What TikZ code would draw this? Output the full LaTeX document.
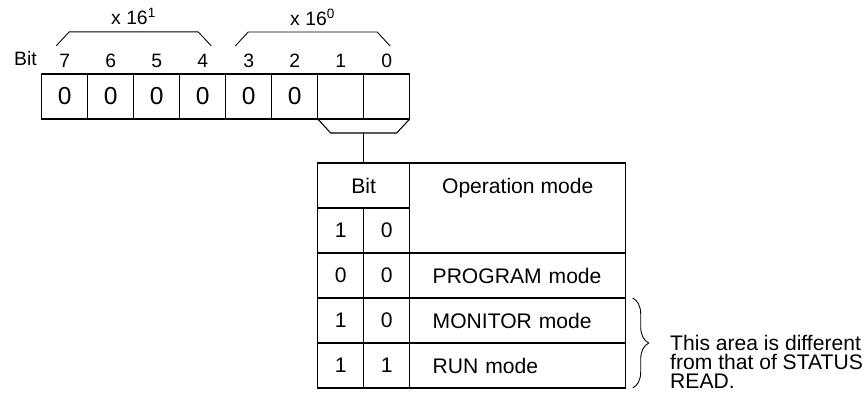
\documentclass[tikz,border=0pt]{standalone}
\usepackage{fontspec}
\setmainfont{Liberation Sans}
\usetikzlibrary{positioning, calc, decorations.pathreplacing}

\begin{document}
\begin{tikzpicture}[
        node distance=0pt,
        line width=0.6pt,
        txt/.style={font=\fontsize{12}{14}\selectfont},
        regbox/.style={rectangle, draw, minimum width=0.92cm, minimum height=0.9cm, inner sep=0pt, outer sep=0pt, font=\fontsize{14}{16}\selectfont},
        tcell/.style={txt, rectangle, draw, minimum width=0.92cm, minimum height=0.9cm, inner sep=0pt, outer sep=0pt},
        modecell/.style={txt, rectangle, draw, minimum height=0.9cm, text width=3.4cm, inner xsep=0.46cm, inner ysep=0pt, outer sep=0pt, align=left},
        bitnum/.style={inner sep=1pt, font=\fontsize{11}{13}\selectfont},
        bracket/.style={line width=0.5pt},
        brc/.style={decorate, decoration={brace, amplitude=0.32cm}, line width=0.5pt}
    ]
        \useasboundingbox (0,0) rectangle (17.36,-8.04);

        % Register, bits 7 to 0
        \node[regbox] (b7) at (1.294,-1.93) {0};
        \node[regbox, right=of b7] (b6) {0};
        \node[regbox, right=of b6] (b5) {0};
        \node[regbox, right=of b5] (b4) {0};
        \node[regbox, right=of b4] (b3) {0};
        \node[regbox, right=of b3] (b2) {0};
        \node[regbox, right=of b2] (b1) {};
        \node[regbox, right=of b1] (b0) {};

        % Bit numbers
        \node[bitnum, above=0.08cm of b7] (n7) {7};
        \node[bitnum, above=0.08cm of b6] (n6) {6};
        \node[bitnum, above=0.08cm of b5] (n5) {5};
        \node[bitnum, above=0.08cm of b4] (n4) {4};
        \node[bitnum, above=0.08cm of b3] (n3) {3};
        \node[bitnum, above=0.08cm of b2] (n2) {2};
        \node[bitnum, above=0.08cm of b1] (n1) {1};
        \node[bitnum, above=0.08cm of b0] (n0) {0};
        \node[bitnum, left=0.36cm of n7, yshift=0.05cm] (nbit) {Bit};

        % Hex weights
        \node[bitnum, above=0.49cm] (w1) at ($(n6.north)!0.5!(n5.north)$) {x 16\textsuperscript{1}};
        \node[bitnum, above=0.49cm, xshift=-0.1cm] (w0) at ($(n2.north)!0.5!(n1.north)$) {x 16\textsuperscript{0}};
        \draw[bracket] ($(w1.south)+(-1.55,-0.37)$) -- ++(0.26,0.28) -- ++(2.58,0) -- ++(0.26,-0.28);
        \draw[bracket] ($(w0.south)+(-1.55,-0.37)$) -- ++(0.26,0.28) -- ++(2.58,0) -- ++(0.26,-0.28);

        % Bits 1 and 0 joined
        \draw (b1.south west) -- ++(0.26,-0.28) -- ($(b0.south east)+(-0.26,-0.28)$) -- (b0.south east);
        \coordinate (mrg) at ($(b1.south east)+(0,-0.28)$);

        % Table
        \node[tcell, minimum width=1.84cm, below right=0.88cm and 0cm of b1.south west] (bh) {Bit};
        \node[tcell, anchor=north west] (h1) at (bh.south west) {1};
        \node[tcell, right=of h1] (h0) {0};
        \node[tcell, minimum width=4.32cm, minimum height=1.8cm, anchor=north west] (opm) at (bh.north east) {};
        \node[txt, text depth=0pt] (opmtxt) at (bh -| opm) {Operation mode};

        \node[tcell, below=of h1] (r1a) {0};
        \node[tcell, right=of r1a] (r1b) {0};
        \node[modecell, right=of r1b] (r1m) {PROGRAM mode};

        \node[tcell, below=of r1a] (r2a) {1};
        \node[tcell, right=of r2a] (r2b) {0};
        \node[modecell, right=of r2b] (r2m) {MONITOR mode};

        \node[tcell, below=of r2a] (r3a) {1};
        \node[tcell, right=of r3a] (r3b) {1};
        \node[modecell, right=of r3b] (r3m) {RUN mode};

        \draw (mrg) -- (bh);

        % Brace and note
        \coordinate (bt) at ($(r2m.north east)+(0.14,0)$);
        \coordinate (bb) at ($(r3m.south east)+(0.14,0)$);
        \draw[brc] (bt) -- (bb);
        \node[anchor=north west, align=left, inner sep=0pt, font=\fontsize{12}{10.6}\selectfont] (note) at ($(bt)!0.5!(bb)+(0.74,0.16)$) {This area is different\\from that of STATUS\\READ.};
    \end{tikzpicture}
\end{document}
